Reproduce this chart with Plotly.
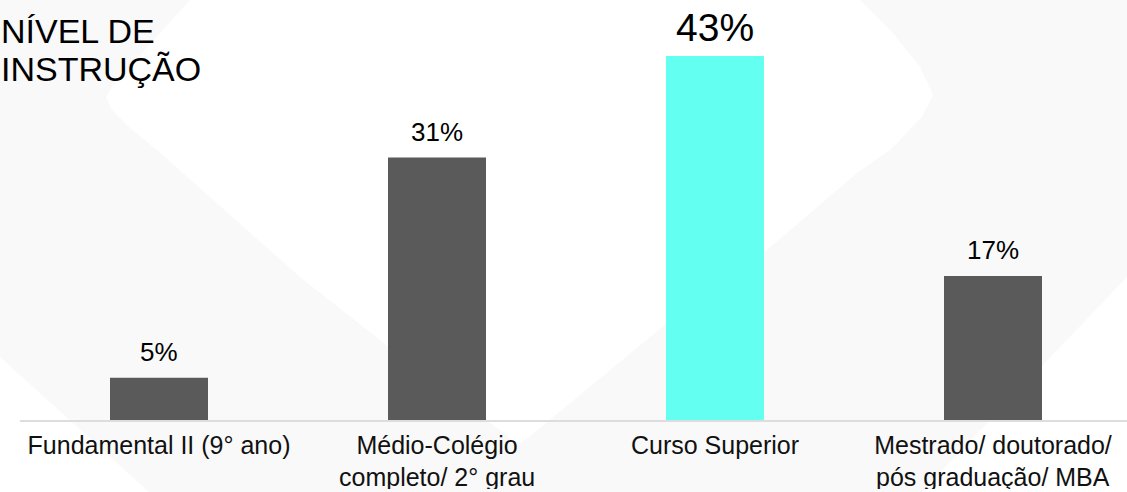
import plotly.graph_objects as go

# ---- data ----
categories = [
    "Fundamental II (9° ano)",
    "Médio-Colégio completo/ 2° grau",
    "Curso Superior",
    "Mestrado/ doutorado/ pós graduação/ MBA",
]
label_line1 = ["Fundamental II (9° ano)", "Médio-Colégio", "Curso Superior", "Mestrado/ doutorado/"]
label_line2 = ["", "completo/ 2° grau", "", "pós graduação/ MBA"]
values = [5, 31, 43, 17]
title_lines = ["NÍVEL DE", "INSTRUÇÃO"]

# ---- style ----
W, H = 1127, 492
ML, MR, MT, MB = 20, 0, 20, 72
PW, PH = W - ML - MR, H - MT - MB
FONT = "Liberation Sans, Arial, Helvetica, sans-serif"
GREY = "#5a5a5a"
CYAN = "#63fff0"
top = max(values)
colors = [CYAN if v == top else GREY for v in values]


def px_to_paper(px, py):
    return (px - ML) / PW, (H - MB - py) / PH


def bg_path(points):
    pts = [px_to_paper(x, y) for x, y in points]
    return "M " + " L ".join(f"{x:.4f},{y:.4f}" for x, y in pts) + " Z"


fig = go.Figure()
fig.add_trace(go.Bar(
    x=categories, y=values,
    marker=dict(color=colors, line=dict(width=0)),
    hoverinfo="skip",
))

# faint decorative background (white rounded diamond over light grey)
diamond = [(200, -10), (190, 0), (160, 33), (130, 67), (113, 85), (106, 97), (112, 110),
           (130, 128), (157, 150), (300, 277), (390, 348), (500, 430), (512, 440),
           (520, 443), (528, 438), (540, 428), (667, 323), (767, 250), (857, 173),
           (890, 150), (922, 117), (933, 95), (920, 67), (893, 33), (860, 0), (850, -10)]
shapes = [
    dict(type="path", path=bg_path(diamond), xref="paper", yref="paper",
         fillcolor="#ffffff", line=dict(width=0), layer="below"),
    dict(type="path", path=bg_path([(-5, 353), (0, 357), (160, 502), (-5, 502)]),
         xref="paper", yref="paper", fillcolor="#ffffff", line=dict(width=0), layer="below"),
    dict(type="path", path=bg_path([(1135, 269), (1127, 277), (912, 502), (1135, 502)]),
         xref="paper", yref="paper", fillcolor="#ffffff", line=dict(width=0), layer="below"),
]

annotations = []
# value labels
for c, v in zip(categories, values):
    big = v == top
    annotations.append(dict(
        x=c, y=v, xref="x", yref="y", text=f"{v}%", showarrow=False,
        yanchor="bottom", yshift=5 if big else 9,
        font=dict(family=FONT, size=39 if big else 26, color="#000000"),
    ))
# second line of category labels
for c, t in zip(categories, label_line2):
    if t:
        annotations.append(dict(
            x=c, y=0, xref="x", yref="paper", text=t, showarrow=False,
            yanchor="top", yshift=-44, height=24, valign="middle", borderpad=0,
            font=dict(family=FONT, size=25, color="#111111"),
        ))
# title
for line, cy in zip(title_lines, [31, 69]):
    _, yp = px_to_paper(0, cy)
    annotations.append(dict(
        x=0, y=yp, xref="paper", yref="paper", text=line, showarrow=False,
        xanchor="left", yanchor="middle", xshift=-ML - 1,
        font=dict(family=FONT, size=34, color="#000000"),
    ))

fig.update_layout(
    width=W, height=H,
    margin=dict(l=ML, r=MR, t=MT, b=MB),
    paper_bgcolor="#f9f9f9",
    plot_bgcolor="rgba(0,0,0,0)",
    bargap=1 - 98 / 278,
    showlegend=False,
    shapes=shapes,
    annotations=annotations,
    xaxis=dict(
        range=[-0.5, 3.482], showline=True, linecolor="#dddddd", linewidth=2,
        ticks="", showgrid=False, zeroline=False,
        tickmode="array", tickvals=categories, ticktext=label_line1,
        tickfont=dict(family=FONT, size=25, color="#111111"),
        ticklabelstandoff=2,
    ),
    yaxis=dict(range=[0, PH / (364 / 43)], visible=False),
)

fig.write_html(
    "out.html",
    config={"displayModeBar": False},
    post_script="document.body.style.margin='0';document.body.style.overflow='hidden';",
)
